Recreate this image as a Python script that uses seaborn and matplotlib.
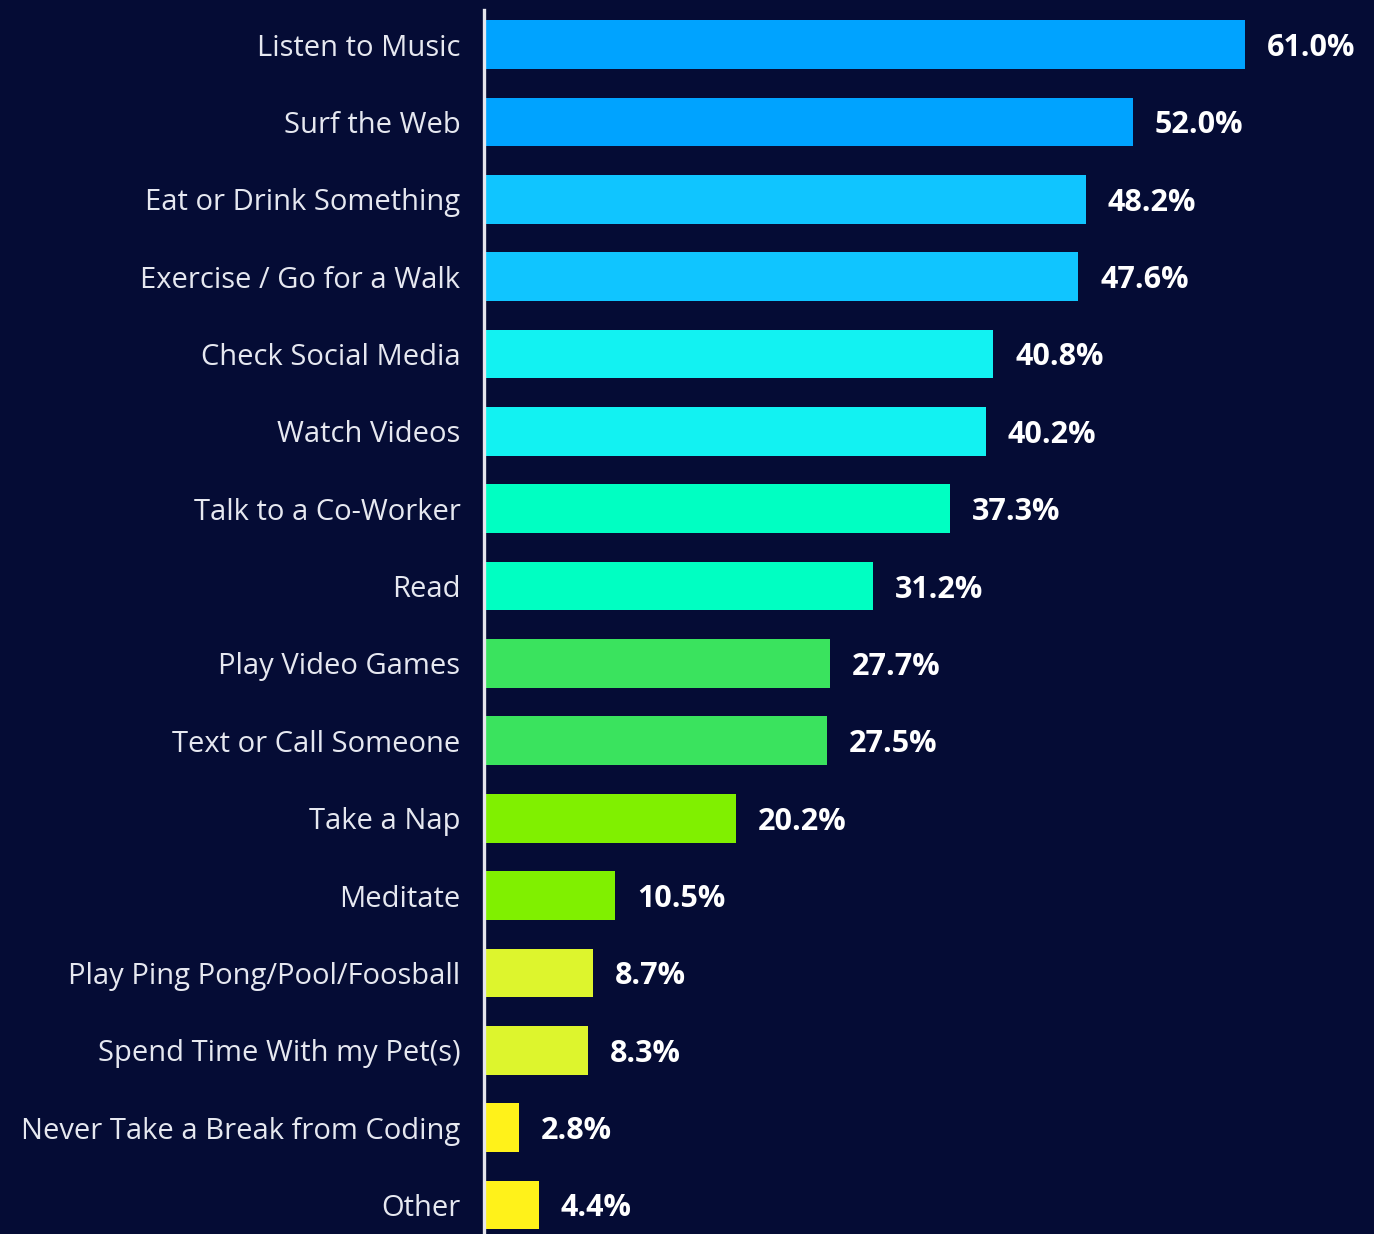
import pandas as pd
import seaborn as sns
import matplotlib.pyplot as plt

# break activities, share of respondents (%)
activities = ['Listen to Music', 'Surf the Web', 'Eat or Drink Something',
              'Exercise / Go for a Walk', 'Check Social Media', 'Watch Videos',
              'Talk to a Co-Worker', 'Read', 'Play Video Games',
              'Text or Call Someone', 'Take a Nap', 'Meditate',
              'Play Ping Pong/Pool/Foosball', 'Spend Time With my Pet(s)',
              'Never Take a Break from Coding', 'Other']
shares = [61.0, 52.0, 48.2, 47.6, 40.8, 40.2, 37.3, 31.2,
          27.7, 27.5, 20.2, 10.5, 8.7, 8.3, 2.8, 4.4]
bar_colors = ['#00A3FF', '#00A3FF', '#10C5FF', '#10C5FF',
              '#12F2F2', '#12F2F2', '#00FFC2', '#00FFC2',
              '#3AE35E', '#3AE35E', '#80F000', '#80F000',
              '#DDF52D', '#DDF52D', '#FFF21A', '#FFF21A']

bg = '#050C35'

df = pd.DataFrame({'Activity': activities, 'Share': shares})

sns.set_style('white')
plt.rcParams['font.family'] = ['Open Sans', 'DejaVu Sans']

fig = plt.figure(figsize=(13.74, 12.34), dpi=100, facecolor=bg)
ax = fig.add_axes([484 / 1374, 0, 1 - 484 / 1374, 1 - 10 / 1234])
ax.set_facecolor(bg)

sns.barplot(data=df, y='Activity', x='Share', hue='Activity',
            palette=bar_colors, legend=False, width=0.63,
            saturation=1, ax=ax, orient='h', linewidth=0, edgecolor='none')

for i, v in enumerate(shares):
    ax.text(v + 1.75, i, f'{v:.1f}%', va='center_baseline', ha='left',
            color='white', fontsize=22, fontweight='bold')

ax.set_xlim(0, 71.3)
ax.set_ylim(15.375, -0.446)
ax.set_xlabel('')
ax.set_ylabel('')
ax.set_xticks([])
ax.tick_params(axis='y', length=0, pad=17, labelsize=21, labelcolor='#E6E8F0')

for side in ['top', 'right', 'bottom']:
    ax.spines[side].set_visible(False)
ax.spines['left'].set_color('#E6E6EC')
ax.spines['left'].set_linewidth(2.4)

fig.savefig('out.png', dpi=100, facecolor=bg)
